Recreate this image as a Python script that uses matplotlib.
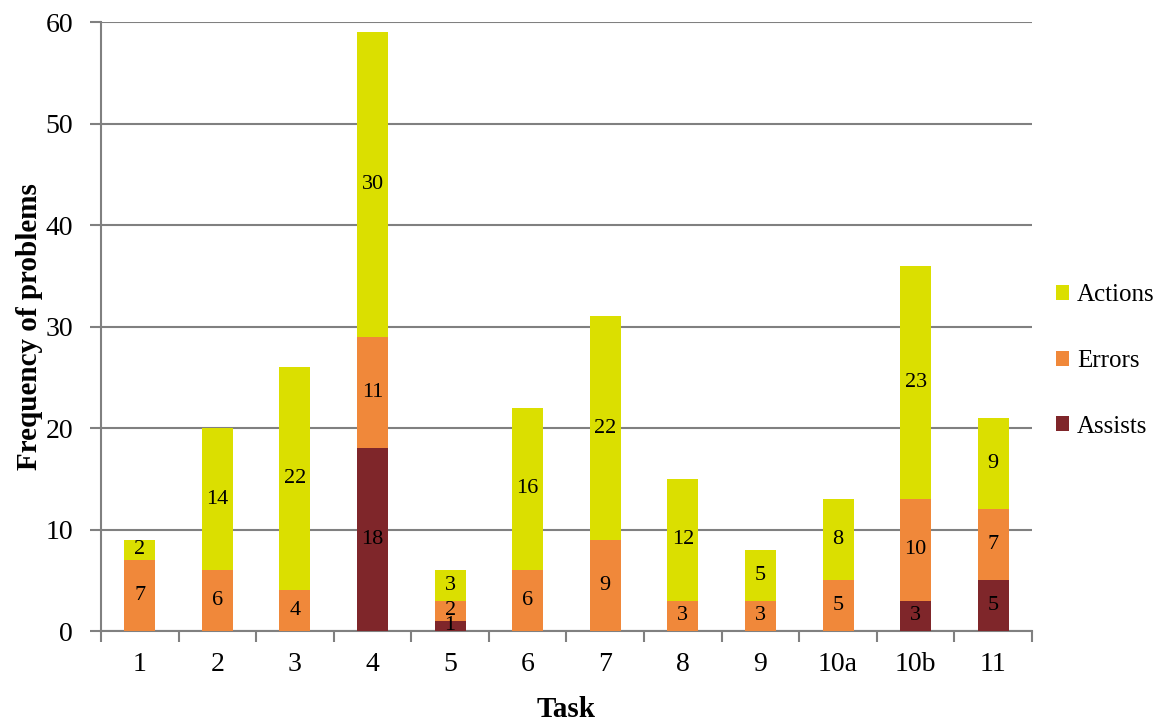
import matplotlib
matplotlib.use("Agg")
import matplotlib.pyplot as plt
import numpy as np

tasks = ["1", "2", "3", "4", "5", "6", "7", "8", "9", "10a", "10b", "11"]
assists = [0, 0, 0, 18, 1, 0, 0, 0, 0, 0, 3, 5]
errors = [7, 6, 4, 11, 2, 6, 9, 3, 3, 5, 10, 7]
actions = [2, 14, 22, 30, 3, 16, 22, 12, 5, 8, 23, 9]

series = [("Assists", assists, "#7F262A"),
          ("Errors", errors, "#F0883A"),
          ("Actions", actions, "#DBDF00")]

plt.rcParams['font.family'] = ['Liberation Serif', 'DejaVu Serif']

fig = plt.figure(figsize=(11.55, 7.22), dpi=100)
ax = fig.add_axes([0.0874, 0.126, 0.8061, 0.8435])

x = np.arange(len(tasks))
bottom = np.zeros(len(tasks))
handles = {}
for name, vals, col in series:
    vals = np.array(vals, dtype=float)
    bars = ax.bar(x, vals, 0.4, bottom=bottom, color=col, zorder=3, label=name)
    for xi, b, v in zip(x, bottom, vals):
        if v > 0:
            ax.text(xi, b + v / 2, f"{int(v)}", ha="center", va="center",
                    fontsize=16, color="black", zorder=4)
    handles[name] = bars
    bottom += vals

ax.set_xlim(-0.5, len(tasks) - 0.5)
ax.set_ylim(0, 60)
ax.set_yticks(np.arange(0, 61, 10))
ax.yaxis.grid(True, color="#808080", linewidth=1.5, zorder=0)
ax.set_axisbelow(True)

ax.set_xticks(x)
ax.set_xticklabels(tasks, fontsize=20)
ax.set_xticks(np.arange(-0.5, len(tasks), 1), minor=True)
ax.tick_params(axis="x", which="major", length=0, pad=15)
ax.tick_params(axis="x", which="minor", length=8, width=1.5, color="#808080")
ax.tick_params(axis="y", labelsize=20, length=8, width=1.5, color="#808080", pad=12)

for s in ["top", "right"]:
    ax.spines[s].set_visible(False)
for s in ["left", "bottom"]:
    ax.spines[s].set_color("#808080")
    ax.spines[s].set_linewidth(1.5)

ax.set_ylabel("Frequency of problems", fontsize=21, fontweight="bold", labelpad=2)
ax.set_xlabel("Task", fontsize=21, fontweight="bold", labelpad=14)

leg_handles = [handles["Actions"], handles["Errors"], handles["Assists"]]
leg = fig.legend(leg_handles, ["Actions", "Errors", "Assists"],
                 loc="center left", bbox_to_anchor=(0.914, 0.5),
                 frameon=False, fontsize=18, handlelength=0.55, handleheight=0.55,
                 handletextpad=0.3, labelspacing=1.75, borderpad=0, borderaxespad=0)

fig.savefig("out.png", dpi=100)
